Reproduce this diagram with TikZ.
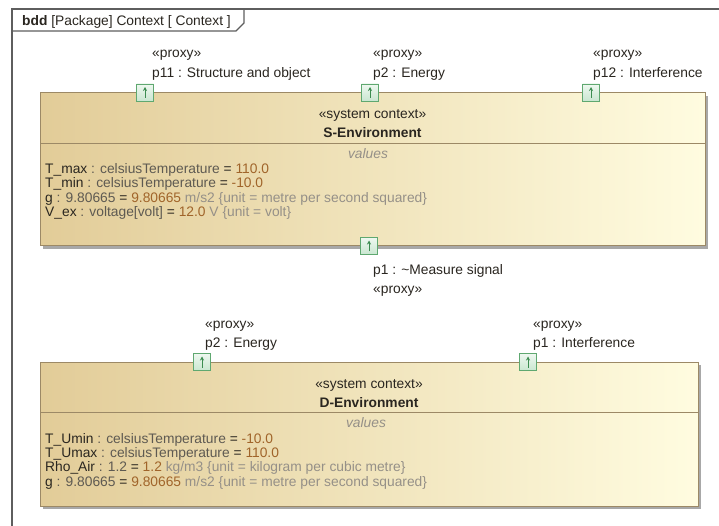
\documentclass[tikz,border=0pt]{standalone}
\usepackage{fontspec}
\setmainfont{Liberation Sans}
\usetikzlibrary{arrows.meta,shadows}
\definecolor{frameC}{HTML}{5E5E5E}
\definecolor{boxB}{HTML}{9C8966}
\definecolor{boxL}{HTML}{E2CC98}
\definecolor{boxR}{HTML}{FFFCE0}
\definecolor{portB}{HTML}{5FA870}
\definecolor{portT}{HTML}{EEF8F0}
\definecolor{portBt}{HTML}{C9E6D0}
\definecolor{portA}{HTML}{3C8C50}
\definecolor{nameC}{HTML}{2A2620}
\definecolor{typeC}{HTML}{5E5A52}
\definecolor{valC}{HTML}{A0642A}
\definecolor{unitC}{HTML}{959088}
\definecolor{shadowC}{HTML}{A8A8A8}
\newcommand{\atN}[1]{\textcolor{nameC}{#1}}
\newcommand{\atT}[1]{\textcolor{typeC}{#1}}
\newcommand{\atV}[1]{\textcolor{valC}{#1}}
\newcommand{\atU}[1]{\textcolor{unitC}{#1}}
\tikzset{
  fnt/.style={font=\fontsize{13.8}{16}\selectfont},
  txt/.style={fnt, anchor=base west, inner sep=0pt, text=nameC},
  ctxt/.style={fnt, anchor=base, inner sep=0pt, text=nameC},
  block/.style={draw=boxB, line width=1pt, left color=boxL, right color=boxR,
    rectangle, inner sep=0pt,
    drop shadow={shadow xshift=3pt, shadow yshift=-3pt, fill=shadowC, opacity=1}},
  portbox/.style={draw=portB, line width=0.9pt, top color=portT, bottom color=portBt,
    rectangle, minimum size=17pt, inner sep=0pt},
  portarrow/.style={draw=portA, line width=0.9pt, -{Stealth[length=4pt,width=4pt]}},
  sepline/.style={draw=boxB, line width=0.9pt},
  framel/.style={draw=frameC, line width=1.1pt}
}
\begin{document}
\begin{tikzpicture}[x=1pt,y=-1pt]
\useasboundingbox (0,0) rectangle (719,526);
\clip (0,0) rectangle (719,526);
\fill[white] (0,0) rectangle (719,526);
% frame
\draw[framel] (12,540) -- (12,9) -- (730,9);
\draw[framel] (12,31) -- (236,31) -- (244,23) -- (244,9);
\node[txt] (title) at (22,26) {\textbf{bdd} [Package] Context [ Context ]};

% S-Environment block
\node[block, minimum width=665pt, minimum height=153pt] (S) at (372.5,169.5) {};
\draw[sepline] (40,143) -- (705,143);
\node[ctxt] (Sst) at (372.5,119) {«system context»};
\node[ctxt] (Sname) at (372.5,138) {\textbf{S-Environment}};
\node[ctxt, text=unitC] (Sval) at (368,159) {\textit{values}};
\node[txt] (S1) at (45,173.5) {\atN{T\_max} \atT{: celsiusTemperature} \atN{=} \atV{110.0}};
\node[txt] (S2) at (45,188) {\atN{T\_min} \atT{: celsiusTemperature} \atN{=} \atV{-10.0}};
\node[txt] (S3) at (45,202.5) {\atN{g} \atT{: 9.80665} \atN{=} \atV{9.80665} \atU{m/s2 \{unit = metre per second squared\}}};
\node[txt] (S4) at (45,217) {\atN{V\_ex} \atT{: voltage[volt]} \atN{=} \atV{12.0} \atU{V \{unit = volt\}}};

% S ports
\node[portbox] (p11) at (145,92.5) {};
\node[portbox] (p2s) at (370,92.5) {};
\node[portbox] (p12) at (591,92.5) {};
\node[portbox] (p1s) at (369,246) {};
\foreach \p in {p11,p2s,p12,p1s}{
  \draw[portarrow] ([yshift=-5.5pt]\p.center) -- ([yshift=5.5pt]\p.center);
}
\node[txt] (p11st) at (152,58) {«proxy»};
\node[txt] (p11l) at (152,78) {p11 : Structure and object};
\node[txt] (p2sst) at (373,58) {«proxy»};
\node[txt] (p2sl) at (373,78) {p2 : Energy};
\node[txt] (p12st) at (593,58) {«proxy»};
\node[txt] (p12l) at (593,78) {p12 : Interference};
\node[txt] (p1sl) at (373,274) {p1 : \textasciitilde Measure signal};
\node[txt] (p1sst) at (373,293) {«proxy»};

% D-Environment block
\node[block, minimum width=658pt, minimum height=144pt] (D) at (369,434) {};
\draw[sepline] (40,412) -- (698,412);
\node[ctxt] (Dst) at (369,388) {«system context»};
\node[ctxt] (Dname) at (369,407) {\textbf{D-Environment}};
\node[ctxt, text=unitC] (Dval) at (366,427) {\textit{values}};
\node[txt] (D1) at (45,443) {\atN{T\_Umin} \atT{: celsiusTemperature} \atN{=} \atV{-10.0}};
\node[txt] (D2) at (45,457) {\atN{T\_Umax} \atT{: celsiusTemperature} \atN{=} \atV{110.0}};
\node[txt] (D3) at (45,471.5) {\atN{Rho\_Air} \atT{: 1.2} \atN{=} \atV{1.2} \atU{kg/m3 \{unit = kilogram per cubic metre\}}};
\node[txt] (D4) at (45,486) {\atN{g} \atT{: 9.80665} \atN{=} \atV{9.80665} \atU{m/s2 \{unit = metre per second squared\}}};

% D ports
\node[portbox] (p2d) at (202,362) {};
\node[portbox] (p1d) at (528,362) {};
\foreach \p in {p2d,p1d}{
  \draw[portarrow] ([yshift=-5.5pt]\p.center) -- ([yshift=5.5pt]\p.center);
}
\node[txt] (p2dst) at (205,328) {«proxy»};
\node[txt] (p2dl) at (205,347) {p2 : Energy};
\node[txt] (p1dst) at (533,328) {«proxy»};
\node[txt] (p1dl) at (533,347) {p1 : Interference};
\end{tikzpicture}
\end{document}
